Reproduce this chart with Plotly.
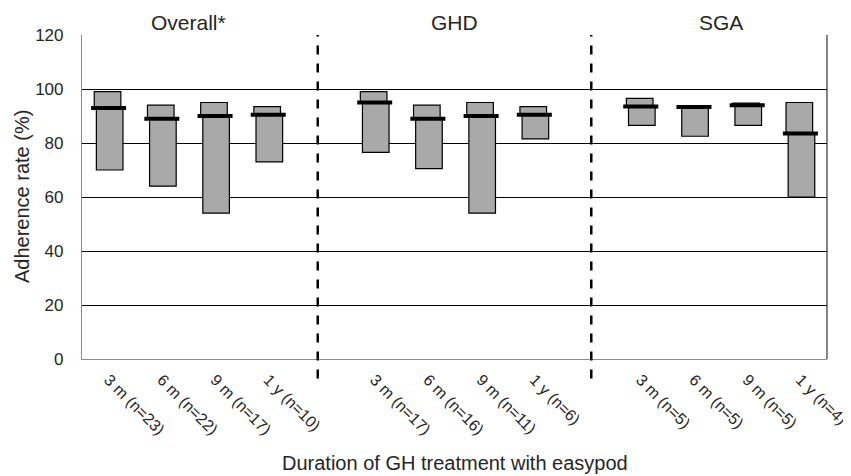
import plotly.graph_objects as go

groups = ["Overall*", "GHD", "SGA"]
durations = ["3 m", "6 m", "9 m", "1 y"]
n_overall = [23, 22, 17, 10]
n_ghd = [17, 16, 11, 6]
n_sga = [5, 5, 5, 4]

min_overall = [70, 64, 54, 73]
med_overall = [93, 89, 90, 90.5]
max_overall = [99, 94, 95, 93.5]

min_ghd = [76.5, 70.5, 54, 81.5]
med_ghd = [95, 89, 90, 90.5]
max_ghd = [99, 94, 95, 93.5]

min_sga = [86.5, 82.5, 86.5, 60]
med_sga = [93.5, 93.3, 94, 83.5]
max_sga = [96.5, 93.8, 94.8, 95]

y_ticks = [0, 20, 40, 60, 80, 100, 120]

all_n = [n_overall, n_ghd, n_sga]
all_min = [min_overall, min_ghd, min_sga]
all_med = [med_overall, med_ghd, med_sga]
all_max = [max_overall, max_ghd, max_sga]

xs, labels, mins, meds, maxs = [], [], [], [], []
for g in range(len(groups)):
    for i, d in enumerate(durations):
        xs.append(g * 5 + i)
        labels.append(f"{d} (n={all_n[g][i]})")
        mins.append(all_min[g][i])
        meds.append(all_med[g][i])
        maxs.append(all_max[g][i])

FONT = "Liberation Sans, Arial, sans-serif"
TXT = "#262626"

fig = go.Figure()
grey = "#A9A9A9"
W = 0.5
# lower part (min -> median)
fig.add_trace(go.Bar(
    x=xs, base=mins, y=[m - lo for m, lo in zip(meds, mins)],
    width=W, offset=-W / 2 + 0.02,
    marker=dict(color=grey, line=dict(color="#000000", width=1.2)),
    showlegend=False, hoverinfo="skip"))
# upper part (median -> max)
fig.add_trace(go.Bar(
    x=xs, base=meds, y=[hi - m for hi, m in zip(maxs, meds)],
    width=W, offset=-W / 2 - 0.02,
    marker=dict(color=grey, line=dict(color="#000000", width=1.2)),
    showlegend=False, hoverinfo="skip"))
# median marks
fig.add_trace(go.Scatter(
    x=xs, y=meds, mode="markers",
    marker=dict(symbol="line-ew", size=25, line=dict(color="#000000", width=4)),
    showlegend=False, hoverinfo="skip"))

# dashed separators
for xv in [3.93, 9.07]:
    fig.add_shape(type="line", xref="x", yref="paper", x0=xv, x1=xv, y0=-0.06, y1=1,
                  line=dict(color="#000000", width=2.5, dash="dash"), layer="above")

# group titles
for g, name in enumerate(groups):
    fig.add_annotation(x=g * 5 + 1.5, y=1.04, xref="x", yref="paper", text=name,
                       showarrow=False, yanchor="middle",
                       font=dict(family=FONT, size=21, color=TXT))

# axis titles
fig.add_annotation(x=-0.0805, y=0.5, xref="paper", yref="paper", text="Adherence rate (%)",
                   textangle=-90, showarrow=False, xanchor="center", yanchor="middle",
                   font=dict(family=FONT, size=20, color=TXT))
fig.add_annotation(x=0.5, y=-0.321, xref="paper", yref="paper",
                   text="Duration of GH treatment with easypod",
                   showarrow=False, xanchor="center", yanchor="middle",
                   font=dict(family=FONT, size=20, color=TXT))

# right border
fig.add_shape(type="line", xref="paper", yref="paper", x0=1, x1=1, y0=0, y1=1,
              line=dict(color="#333333", width=1.2))

# the page body adds an 8px offset, so the figure is 8px smaller and margins shifted
fig.update_layout(
    width=843, height=468,
    margin=dict(l=74, r=24, t=27, b=117, autoexpand=False),
    paper_bgcolor="white", plot_bgcolor="white",
    barmode="overlay",
    font=dict(family=FONT, color=TXT),
    xaxis=dict(range=[-0.5, 13.5], tickvals=xs, ticktext=labels, tickangle=45,
               showgrid=False, zeroline=False, ticks="", automargin=False,
               showline=True, linecolor="#8C8C8C", linewidth=1.2,
               ticklabeloverflow="allow",
               tickfont=dict(size=16, color=TXT), ticklabelstandoff=4),
    yaxis=dict(range=[0, 120], tickvals=y_ticks, showgrid=True,
               gridcolor="#000000", gridwidth=1, zeroline=False, automargin=False,
               showline=True, linecolor="#8C8C8C", linewidth=1.2, ticks="",
               tickfont=dict(size=17, color=TXT), ticklabelstandoff=14),
)

fig.write_html("out.html")
